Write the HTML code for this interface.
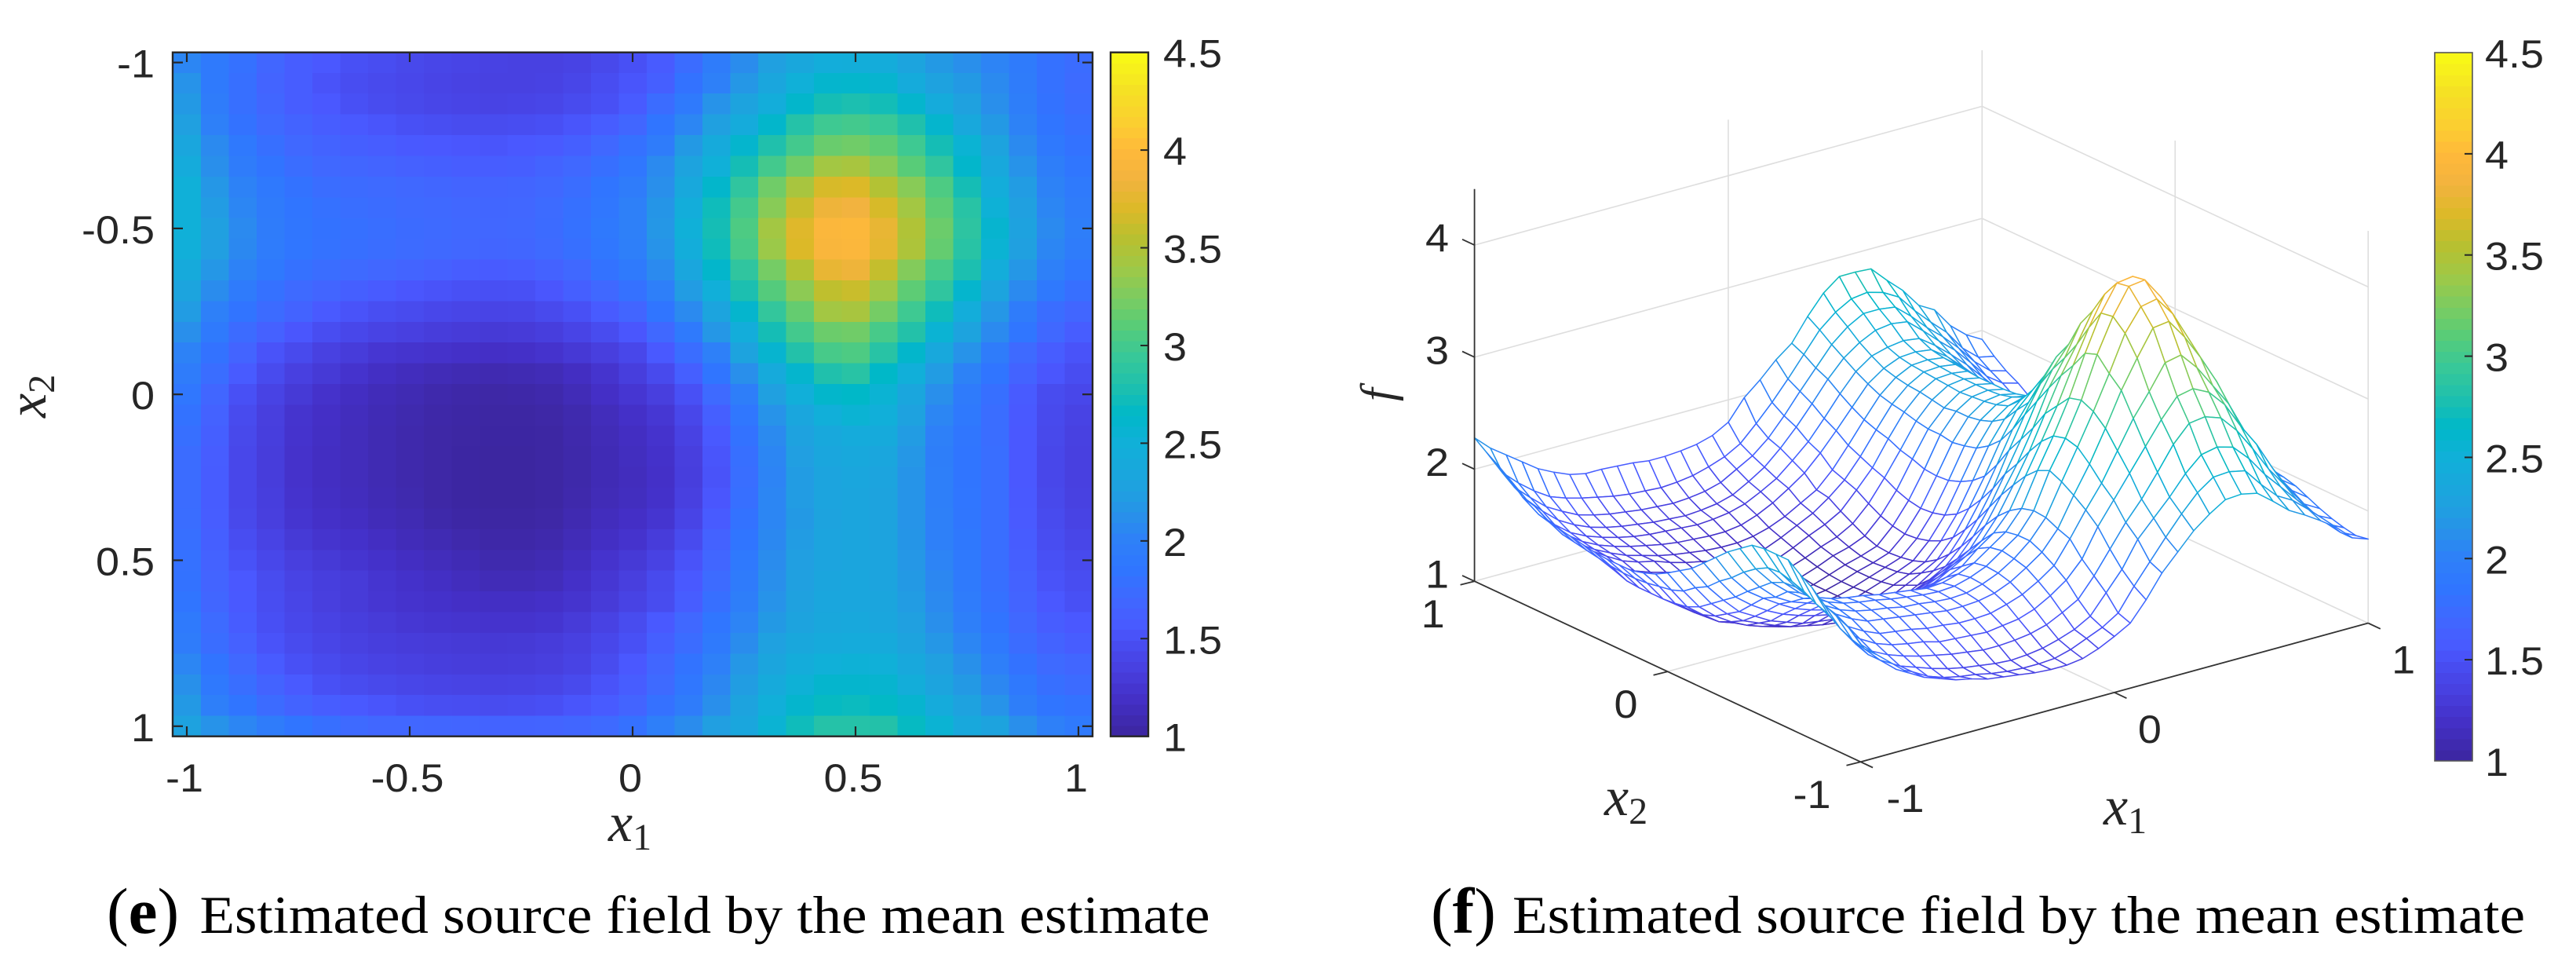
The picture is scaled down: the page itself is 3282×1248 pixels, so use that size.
<!DOCTYPE html>
<html lang="en">
<head>
<meta charset="utf-8">
<title>Estimated source field by the mean estimate</title>
<style>
html,body{margin:0;padding:0;background:#fff;}
body{width:3282px;height:1248px;overflow:hidden;}
svg{display:block;}
text{font-family:"Liberation Sans",sans-serif;fill:#262626;}
.cap{font-family:"Liberation Serif",serif;fill:#000;}
.math{font-family:"Liberation Serif",serif;font-style:italic;fill:#262626;}
</style>
</head>
<body>
<svg id="fig" width="3282" height="1248" viewBox="0 0 3282 1248" xmlns="http://www.w3.org/2000/svg">
  <g id="panel-e">
    <g id="heat" shape-rendering="crispEdges"></g>
    <rect x="220" y="66.7" width="1172" height="871" fill="none" stroke="#262626" stroke-width="2.4"></rect>
    <g id="heat-ticks"></g>
    <g id="cb1" shape-rendering="crispEdges"></g>
    <rect x="1415" y="66.7" width="48" height="871" fill="none" stroke="#262626" stroke-width="2.4"></rect>
    <g id="cb1-ticks"></g>
    <text class="math" x="775" y="1071" font-size="70">x<tspan font-style="normal" font-size="48" dy="11">1</tspan></text>
    <text class="math" transform="translate(58,532) rotate(-90)" font-size="70">x<tspan font-style="normal" font-size="48" dy="11">2</tspan></text>
  </g>
  <g id="panel-f">
    <g id="grid3d"></g>
    <g id="mesh"></g>
    <g id="axes3d"></g>
    <g id="cb2" shape-rendering="crispEdges"></g>
    <rect x="3102" y="67" width="48" height="902" fill="none" stroke="#555" stroke-width="1.6"></rect>
    <g id="cb2-ticks"></g>
    <text class="math" x="2680" y="1050" font-size="70">x<tspan font-style="normal" font-size="48" dy="11">1</tspan></text>
    <text class="math" x="2044" y="1038" font-size="70">x<tspan font-style="normal" font-size="48" dy="11">2</tspan></text>
    <text class="math" transform="translate(1775,511) rotate(-90)" font-size="60">f</text>
  </g>
  <text class="cap" x="136" y="1188" font-size="83">(<tspan font-weight="bold">e</tspan>)</text>
  <text class="cap" x="254.5" y="1188" font-size="68" textLength="1287" lengthAdjust="spacingAndGlyphs">Estimated source field by the mean estimate</text>
  <text class="cap" x="1823" y="1188" font-size="83">(<tspan font-weight="bold">f</tspan>)</text>
  <text class="cap" x="1927" y="1188" font-size="68" textLength="1290" lengthAdjust="spacingAndGlyphs">Estimated source field by the mean estimate</text>
</svg>
<script>
/* Field values: rows run x2 = -1 to 1, columns x1 = -1 to 1 */
const fieldRows = [
[2.05,1.92,1.8,1.68,1.6,1.55,1.5,1.47,1.43,1.41,1.39,1.37,1.36,1.36,1.38,1.43,1.5,1.58,1.75,1.95,2.1,2.25,2.36,2.45,2.46,2.43,2.32,2.2,2.12,2.03,1.93,1.8,1.75],
[2.15,1.92,1.78,1.66,1.6,1.52,1.47,1.44,1.42,1.39,1.37,1.36,1.36,1.37,1.41,1.47,1.53,1.62,1.82,2.0,2.18,2.35,2.5,2.6,2.61,2.58,2.42,2.28,2.2,2.08,1.95,1.8,1.73],
[2.2,1.95,1.78,1.68,1.6,1.55,1.5,1.46,1.43,1.41,1.39,1.38,1.39,1.41,1.45,1.5,1.58,1.75,1.92,2.15,2.3,2.45,2.62,2.75,2.78,2.74,2.6,2.42,2.27,2.12,1.97,1.82,1.75],
[2.25,2.0,1.82,1.72,1.65,1.6,1.56,1.53,1.5,1.48,1.46,1.46,1.47,1.49,1.53,1.6,1.68,1.85,2.05,2.25,2.42,2.62,2.83,2.98,3.0,2.95,2.8,2.6,2.38,2.2,2.02,1.85,1.78],
[2.35,2.08,1.9,1.78,1.7,1.65,1.62,1.6,1.56,1.55,1.54,1.53,1.55,1.57,1.62,1.7,1.8,1.95,2.2,2.4,2.6,2.8,3.0,3.17,3.2,3.13,2.98,2.75,2.55,2.3,2.08,1.9,1.82],
[2.42,2.12,1.95,1.84,1.76,1.7,1.68,1.66,1.63,1.62,1.6,1.6,1.61,1.65,1.7,1.78,1.88,2.08,2.3,2.5,2.75,3.0,3.2,3.42,3.45,3.3,3.1,2.9,2.62,2.38,2.15,1.97,1.87],
[2.5,2.18,2.02,1.9,1.82,1.76,1.74,1.72,1.7,1.68,1.66,1.66,1.67,1.7,1.76,1.85,1.95,2.12,2.38,2.62,2.9,3.2,3.45,3.68,3.7,3.52,3.3,3.05,2.75,2.45,2.22,2.02,1.92],
[2.5,2.22,2.05,1.93,1.85,1.8,1.77,1.75,1.72,1.71,1.69,1.68,1.69,1.73,1.79,1.88,2.0,2.17,2.45,2.72,3.0,3.3,3.62,3.82,3.85,3.68,3.42,3.12,2.85,2.52,2.25,2.05,1.95],
[2.5,2.25,2.08,1.95,1.87,1.82,1.79,1.77,1.74,1.72,1.7,1.69,1.7,1.74,1.8,1.9,2.0,2.18,2.5,2.75,3.05,3.42,3.72,3.95,3.97,3.78,3.5,3.18,2.88,2.58,2.28,2.08,1.97],
[2.48,2.24,2.07,1.94,1.86,1.81,1.78,1.76,1.73,1.71,1.69,1.67,1.68,1.72,1.78,1.88,1.98,2.15,2.45,2.72,3.02,3.38,3.7,3.93,3.95,3.76,3.48,3.15,2.85,2.55,2.25,2.05,1.95],
[2.4,2.18,2.02,1.9,1.8,1.76,1.72,1.69,1.66,1.63,1.6,1.58,1.6,1.64,1.7,1.82,1.92,2.08,2.35,2.62,2.9,3.22,3.52,3.78,3.82,3.6,3.28,3.02,2.78,2.45,2.18,2.0,1.88],
[2.32,2.1,1.93,1.8,1.72,1.67,1.62,1.58,1.54,1.52,1.5,1.49,1.5,1.54,1.62,1.7,1.8,1.98,2.22,2.48,2.78,3.08,3.32,3.58,3.62,3.4,3.12,2.9,2.6,2.32,2.08,1.9,1.78],
[2.22,2.0,1.84,1.74,1.65,1.57,1.52,1.48,1.45,1.42,1.4,1.39,1.4,1.44,1.5,1.58,1.67,1.85,2.08,2.32,2.6,2.92,3.15,3.42,3.45,3.22,2.98,2.72,2.45,2.18,1.95,1.76,1.68],
[2.12,1.92,1.74,1.63,1.54,1.47,1.42,1.38,1.35,1.32,1.3,1.29,1.3,1.33,1.39,1.46,1.54,1.7,1.92,2.18,2.45,2.75,3.0,3.18,3.2,3.02,2.82,2.55,2.3,2.08,1.86,1.7,1.6],
[2.02,1.82,1.66,1.52,1.44,1.36,1.31,1.26,1.24,1.22,1.2,1.19,1.2,1.23,1.28,1.34,1.42,1.56,1.76,2.0,2.3,2.58,2.82,3.02,3.05,2.85,2.62,2.38,2.15,1.95,1.72,1.6,1.52],
[1.95,1.76,1.58,1.45,1.35,1.29,1.23,1.18,1.15,1.12,1.1,1.09,1.1,1.12,1.17,1.24,1.33,1.44,1.62,1.85,2.12,2.4,2.6,2.8,2.85,2.65,2.48,2.22,2.02,1.85,1.65,1.54,1.47],
[1.88,1.68,1.5,1.38,1.29,1.22,1.17,1.13,1.1,1.07,1.05,1.04,1.05,1.07,1.12,1.19,1.26,1.34,1.5,1.72,1.97,2.25,2.48,2.62,2.65,2.55,2.35,2.12,1.93,1.78,1.58,1.46,1.42],
[1.82,1.64,1.45,1.34,1.24,1.19,1.15,1.11,1.08,1.05,1.03,1.02,1.02,1.04,1.08,1.14,1.2,1.27,1.42,1.62,1.88,2.15,2.35,2.48,2.55,2.48,2.28,2.05,1.9,1.76,1.56,1.44,1.38],
[1.78,1.62,1.43,1.33,1.23,1.18,1.14,1.1,1.07,1.04,1.02,1.01,1.01,1.02,1.07,1.12,1.17,1.23,1.37,1.56,1.82,2.08,2.28,2.38,2.42,2.4,2.22,2.0,1.87,1.76,1.55,1.43,1.36],
[1.75,1.6,1.42,1.32,1.22,1.17,1.14,1.1,1.07,1.04,1.01,1.0,1.0,1.02,1.06,1.11,1.16,1.21,1.34,1.53,1.78,2.05,2.24,2.34,2.37,2.34,2.18,1.97,1.85,1.77,1.55,1.42,1.35],
[1.75,1.59,1.42,1.32,1.22,1.17,1.14,1.1,1.07,1.04,1.01,1.0,1.0,1.02,1.06,1.11,1.15,1.2,1.33,1.52,1.77,2.03,2.22,2.32,2.34,2.31,2.16,1.98,1.85,1.77,1.55,1.42,1.35],
[1.75,1.59,1.42,1.33,1.23,1.18,1.15,1.11,1.08,1.04,1.01,1.0,1.0,1.02,1.07,1.12,1.16,1.21,1.35,1.54,1.78,2.05,2.22,2.31,2.33,2.3,2.16,1.98,1.86,1.77,1.56,1.43,1.36],
[1.76,1.6,1.43,1.34,1.25,1.2,1.17,1.13,1.1,1.06,1.03,1.02,1.02,1.04,1.09,1.15,1.19,1.25,1.39,1.58,1.82,2.05,2.2,2.3,2.33,2.3,2.16,2.0,1.87,1.77,1.57,1.45,1.38],
[1.78,1.62,1.47,1.38,1.29,1.24,1.21,1.17,1.13,1.1,1.07,1.05,1.05,1.07,1.12,1.18,1.23,1.31,1.45,1.64,1.85,2.07,2.22,2.31,2.33,2.3,2.17,2.0,1.89,1.77,1.59,1.47,1.41],
[1.8,1.64,1.51,1.42,1.34,1.29,1.25,1.21,1.17,1.14,1.11,1.08,1.08,1.1,1.16,1.23,1.29,1.37,1.52,1.68,1.9,2.1,2.24,2.32,2.33,2.31,2.18,2.03,1.9,1.77,1.62,1.5,1.44],
[1.82,1.66,1.55,1.46,1.38,1.33,1.3,1.25,1.21,1.18,1.15,1.12,1.12,1.14,1.2,1.27,1.34,1.44,1.56,1.73,1.93,2.12,2.25,2.33,2.34,2.32,2.2,2.06,1.92,1.78,1.64,1.52,1.47],
[1.85,1.68,1.56,1.47,1.4,1.34,1.3,1.26,1.23,1.21,1.19,1.18,1.18,1.2,1.24,1.3,1.38,1.46,1.6,1.78,1.97,2.15,2.27,2.34,2.35,2.33,2.22,2.08,1.94,1.8,1.66,1.55,1.5],
[1.92,1.73,1.59,1.49,1.42,1.37,1.33,1.3,1.27,1.25,1.24,1.23,1.23,1.25,1.3,1.37,1.46,1.56,1.7,1.86,2.03,2.2,2.3,2.36,2.37,2.35,2.25,2.12,1.98,1.84,1.7,1.6,1.55],
[1.95,1.76,1.63,1.52,1.45,1.4,1.36,1.33,1.31,1.3,1.29,1.28,1.29,1.31,1.35,1.42,1.5,1.62,1.75,1.92,2.1,2.26,2.36,2.4,2.42,2.4,2.3,2.18,2.05,1.9,1.75,1.65,1.6],
[2.05,1.84,1.7,1.58,1.5,1.44,1.4,1.37,1.35,1.33,1.32,1.31,1.32,1.34,1.38,1.46,1.55,1.68,1.83,2.0,2.18,2.33,2.43,2.5,2.52,2.5,2.38,2.25,2.13,1.98,1.82,1.72,1.68],
[2.13,1.9,1.77,1.65,1.57,1.5,1.46,1.43,1.41,1.39,1.38,1.37,1.38,1.4,1.44,1.52,1.6,1.72,1.88,2.06,2.23,2.4,2.52,2.6,2.6,2.58,2.46,2.32,2.2,2.06,1.9,1.78,1.74],
[2.2,1.98,1.85,1.74,1.65,1.6,1.56,1.53,1.5,1.48,1.47,1.46,1.47,1.49,1.53,1.58,1.66,1.8,1.95,2.12,2.3,2.48,2.6,2.68,2.7,2.66,2.58,2.42,2.28,2.15,1.97,1.85,1.82],
[2.28,2.15,2.05,1.95,1.85,1.78,1.72,1.69,1.69,1.68,1.67,1.65,1.65,1.66,1.68,1.72,1.8,1.98,2.1,2.24,2.35,2.55,2.72,2.83,2.83,2.82,2.68,2.55,2.38,2.3,2.12,2.0,1.92]
];
const axisTicks = [-1, -0.5, 0, 0.5, 1];
const surfaceTicks = [-1, 0, 1];
const fTicks = [1, 2, 3, 4];
const colorTicks = [1, 1.5, 2, 2.5, 3, 3.5, 4, 4.5];
const colorValues = [1.0,1.05,1.2,1.35,1.5,1.55,1.7,1.85,2.0,2.1,2.25,2.5,2.65,2.8,2.95,3.1,3.25,3.4,3.55,3.7,3.85,4.0,4.15,4.3,4.5];
const colorHex = ['#3c26a0','#3e28a8','#4430c8','#4840e0','#4850f5','#4a58ff','#4068ff','#3075ff','#2e80f8','#2a8ced','#20a0e0','#10b0d8','#00b8c8','#20c0ac','#38c898','#58cc78','#7ccc60','#a0c846','#b8c030','#dcb928','#f2b33f','#ffb93a','#fbd030','#f5e025','#f9fb15'];

const NS = 'http://www.w3.org/2000/svg';
const hexRgb = h => [1,3,5].map(k => parseInt(h.substr(k,2),16));
function colorOf(v){
  if(v <= colorValues[0]) return colorHex[0];
  for(let k = 1; k < colorValues.length; k++){
    if(v <= colorValues[k]){
      const t = (v-colorValues[k-1])/(colorValues[k]-colorValues[k-1]);
      const a = hexRgb(colorHex[k-1]), b = hexRgb(colorHex[k]);
      return 'rgb('+a.map((c,n)=>Math.round(c+(b[n]-c)*t)).join(',')+')';
    }
  }
  return colorHex[colorHex.length-1];
}
/* axis functions */
const heatX = v => 806 + v*568;
const heatY = v => 502.2 + v*422.6;
const cb1Y = v => 937.7 - (v-1)*248.86;
const cb2Y = v => 969 - (v-1)*257.71;
function project(x1, x2, f){
  return [2447.9 + 323.35*x1 - 245.95*x2, 766.85 - 88.35*x1 - 115*x2 - 142.7*(f-1)];
}
const gridCoord = n => -1 + n/16;

function seg(parent, a, b, color, width, name){
  const el = document.createElementNS(NS,'line');
  el.setAttribute('x1',a[0]); el.setAttribute('y1',a[1]);
  el.setAttribute('x2',b[0]); el.setAttribute('y2',b[1]);
  el.setAttribute('stroke',color); el.setAttribute('stroke-width',width);
  
  
  parent.appendChild(el);
}
function label(parent, txt, x, y, anchor, name){
  const el = document.createElementNS(NS,'text');
  el.textContent = txt;
  el.setAttribute('transform','translate('+x+','+y+') scale(1.08,1)');
  el.setAttribute('text-anchor',anchor);
  el.setAttribute('font-size','50');
  
  
  parent.appendChild(el);
}
const $ = id => document.getElementById(id);

/* heatmap */
const cellW = heatX(1/16)-heatX(0), cellH = heatY(1/16)-heatY(0);
fieldRows.forEach((row,j)=>{
  row.forEach((v,i)=>{
    const r = document.createElementNS(NS,'rect');
    r.setAttribute('x',heatX(gridCoord(i))-cellW/2);
    r.setAttribute('y',heatY(gridCoord(j))-cellH/2);
    r.setAttribute('width',cellW+0.6);
    r.setAttribute('height',cellH+0.6);
    r.setAttribute('fill',colorOf(v));
    
    
    $('heat').appendChild(r);
  });
});
const hT = $('heat-ticks');
axisTicks.forEach(t=>{
  const x = heatX(t), y = heatY(t);
  seg(hT,[x,66.7],[x,79],'#262626',2.2,'x-tick-top');
  seg(hT,[x,937.7],[x,925],'#262626',2.2,'x-tick-bottom');
  seg(hT,[220,y],[233,y],'#262626',2.2,'y-tick-left');
  seg(hT,[1392,y],[1379,y],'#262626',2.2,'y-tick-right');
  label(hT,String(t),x-3,1008,'middle','x-tick-label');
  label(hT,String(t),197,y+19,'end','y-tick-label');
});

/* colorbars */
function colorbar(group, tickGroup, scale, left, width, labelX){
  const bands = 64, span = colorTicks[colorTicks.length-1]-colorTicks[0];
  for(let k = 0; k < bands; k++){
    const lo = colorTicks[0]+span*k/bands, hi = colorTicks[0]+span*(k+1)/bands;
    const r = document.createElementNS(NS,'rect');
    r.setAttribute('x',left);
    r.setAttribute('y',scale(hi));
    r.setAttribute('width',width);
    r.setAttribute('height',scale(lo)-scale(hi)+0.6);
    r.setAttribute('fill',colorOf((lo+hi)/2));
    
    
    group.appendChild(r);
  }
  colorTicks.forEach(t=>{
    const y = scale(t);
    if(t > colorTicks[0] && t < colorTicks[colorTicks.length-1]){
      seg(tickGroup,[left+width,y],[left+width-10,y],'#262626',2,'colorbar-tick');
    }
    label(tickGroup,String(t),labelX,y+19,'start','colorbar-tick-label');
  });
}
colorbar($('cb1'),$('cb1-ticks'),cb1Y,1415,48,1482);
colorbar($('cb2'),$('cb2-ticks'),cb2Y,3102,48,3166);

/* 3D back planes */
const g3 = $('grid3d'), gridColor = '#dedede', fMin = 1, fMax = 4.5;
fTicks.forEach(f=>{
  seg(g3,project(-1,1,f),project(1,1,f),gridColor,1.6,'wall-gridline');
  seg(g3,project(1,1,f),project(1,-1,f),gridColor,1.6,'wall-gridline');
});
surfaceTicks.forEach(t=>{
  seg(g3,project(t,1,fMin),project(t,1,fMax),gridColor,1.6,'wall-gridline');
  seg(g3,project(1,t,fMin),project(1,t,fMax),gridColor,1.6,'wall-gridline');
});
seg(g3,project(0,-1,fMin),project(0,1,fMin),gridColor,1.6,'floor-gridline');
seg(g3,project(-1,0,fMin),project(1,0,fMin),gridColor,1.6,'floor-gridline');

/* surface mesh: far corner first so near cells hide it */
const meshG = $('mesh');
for(let i = fieldRows[0].length-2; i >= 0; i--){
  for(let j = fieldRows.length-2; j >= 0; j--){
    const corners = [[i,j],[i+1,j],[i+1,j+1],[i,j+1]];
    const pts = corners.map(c=>project(gridCoord(c[0]),gridCoord(c[1]),fieldRows[c[1]][c[0]]));
    const mean = corners.reduce((s,c)=>s+fieldRows[c[1]][c[0]],0)/4;
    const p = document.createElementNS(NS,'polygon');
    p.setAttribute('points',pts.map(q=>q[0].toFixed(1)+','+q[1].toFixed(1)).join(' '));
    p.setAttribute('fill','#fff');
    p.setAttribute('stroke',colorOf(mean));
    p.setAttribute('stroke-width','1.5');
    p.setAttribute('stroke-linejoin','round');
    
    
    meshG.appendChild(p);
  }
}

/* 3D axes */
const ax = $('axes3d'), axisColor = '#333';
seg(ax,project(-1,1,fMin),project(-1,1,fMax),axisColor,1.8,'f-axis-line');
seg(ax,project(-1,1,fMin),project(-1,-1,fMin),axisColor,1.8,'x2-axis-line');
seg(ax,project(-1,-1,fMin),project(1,-1,fMin),axisColor,1.8,'x1-axis-line');
fTicks.forEach(f=>{
  const p = project(-1,1,f);
  seg(ax,p,[p[0]-15.6,p[1]-7.3],axisColor,1.8,'f-tick');
  label(ax,String(f),1846,p[1]+8.5,'end','f-tick-label');
});
surfaceTicks.forEach(t=>{
  const p = project(-1,t,fMin), q = project(t,-1,fMin);
  seg(ax,p,[p[0]-18,p[1]+4.5],axisColor,1.8,'x2-tick');
  seg(ax,q,[q[0]+15.6,q[1]+7.3],axisColor,1.8,'x1-tick');
  label(ax,String(t),p[0]-38,p[1]+59,'end','x2-tick-label');
  label(ax,String(t),q[0]+(t<0?81:60),q[1]+64,'end','x1-tick-label');
});
</script>
</body>
</html>
